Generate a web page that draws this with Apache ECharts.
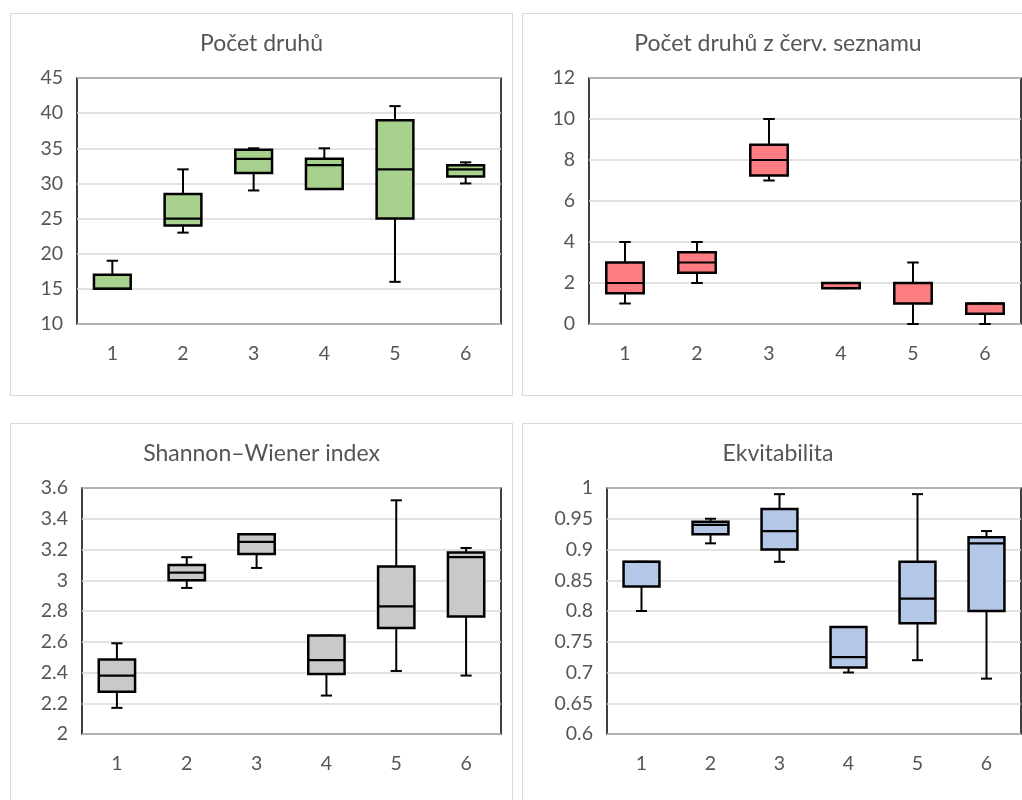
<!DOCTYPE html>
<html>
<head>
<meta charset="utf-8">
<script src="https://cdn.jsdelivr.net/npm/echarts@6/dist/echarts.min.js"></script>
<style>
  html, body { margin: 0; padding: 0; background: #fff; width: 1022px; height: 800px; overflow: hidden; }
  .panel { position: absolute; box-sizing: border-box; border: 1px solid #d9d9d9; background: #fff; }
</style>
</head>
<body>
<div id="p1" class="panel" style="left:10px; top:13px; width:503px; height:383px;"></div>
<div id="p2" class="panel" style="left:522px; top:13px; width:512px; height:383px;"></div>
<div id="p3" class="panel" style="left:10px; top:423px; width:503px; height:390px;"></div>
<div id="p4" class="panel" style="left:522px; top:423px; width:512px; height:390px;"></div>
<script>
// Sites 1–6; each row is [min, Q1, median, Q3, max]
const categories = ['1', '2', '3', '4', '5', '6'];

const pocetDruhu = [
  [15, 15, 15, 17, 19],
  [23, 24, 25, 28.5, 32],
  [29, 31.5, 33.5, 34.8, 35],
  [29.2, 29.2, 32.6, 33.5, 35],
  [16, 25, 32, 39, 41],
  [30, 31, 32, 32.6, 33]
];

const cervenySeznam = [
  [1, 1.5, 2, 3, 4],
  [2, 2.5, 3, 3.5, 4],
  [7, 7.25, 8, 8.75, 10],
  [1.75, 1.75, 2, 2, 2],
  [0, 1, 2, 2, 3],
  [0, 0.5, 1, 1, 1]
];

const shannon = [
  [2.17, 2.275, 2.38, 2.485, 2.59],
  [2.95, 3.0, 3.05, 3.1, 3.15],
  [3.08, 3.17, 3.25, 3.3, 3.3],
  [2.25, 2.39, 2.48, 2.64, 2.64],
  [2.41, 2.69, 2.83, 3.09, 3.52],
  [2.38, 2.765, 3.15, 3.18, 3.21]
];

const ekvitabilita = [
  [0.80, 0.84, 0.88, 0.88, 0.88],
  [0.91, 0.925, 0.94, 0.945, 0.95],
  [0.88, 0.90, 0.93, 0.966, 0.99],
  [0.70, 0.708, 0.725, 0.774, 0.774],
  [0.72, 0.78, 0.82, 0.88, 0.99],
  [0.69, 0.80, 0.91, 0.92, 0.93]
];

const FONT = 'Lato, "Open Sans", sans-serif';
const TEXT = '#555555';

// Box with narrow whisker caps, placed through the chart's own axes
function renderBox(fill) {
  return function (params, api) {
    const i = api.value(0);
    const lo = api.value(1), q1 = api.value(2), med = api.value(3), q3 = api.value(4), hi = api.value(5);
    const band = api.size([1, 0])[0];
    const half = band * 0.26;
    const cap = band * 0.08;
    const pLo = api.coord([i, lo]);
    const pQ1 = api.coord([i, q1]);
    const pMed = api.coord([i, med]);
    const pQ3 = api.coord([i, q3]);
    const pHi = api.coord([i, hi]);
    const x = pMed[0];
    const line = { stroke: '#000', lineWidth: 2 };
    const children = [];
    if (hi > q3) {
      children.push({ type: 'line', shape: { x1: x, y1: pQ3[1], x2: x, y2: pHi[1] }, style: line });
    }
    children.push({ type: 'line', shape: { x1: x - cap, y1: pHi[1], x2: x + cap, y2: pHi[1] }, style: line });
    if (lo < q1) {
      children.push({ type: 'line', shape: { x1: x, y1: pQ1[1], x2: x, y2: pLo[1] }, style: line });
    }
    children.push({ type: 'line', shape: { x1: x - cap, y1: pLo[1], x2: x + cap, y2: pLo[1] }, style: line });
    children.push({
      type: 'rect',
      shape: { x: x - half, y: pQ3[1], width: half * 2, height: pQ1[1] - pQ3[1] },
      style: { fill: fill, stroke: '#000', lineWidth: 2.5 }
    });
    children.push({
      type: 'line',
      shape: { x1: x - half, y1: pMed[1], x2: x + half, y2: pMed[1] },
      style: { stroke: '#000', lineWidth: 2.2 }
    });
    return { type: 'group', children: children };
  };
}

function buildPanel(id, title, rows, yMin, yMax, step, fill, grid) {
  const chart = echarts.init(document.getElementById(id), null, { renderer: 'canvas' });
  chart.setOption({
    animation: false,
    title: {
      text: title,
      left: 'center',
      top: 13,
      textStyle: { fontFamily: FONT, fontSize: 23, fontWeight: 'normal', color: TEXT }
    },
    grid: Object.assign({ show: true, borderColor: '#000', borderWidth: 1.5, backgroundColor: 'transparent' }, grid),
    xAxis: {
      type: 'category',
      data: categories,
      axisLine: { show: false },
      axisTick: { show: false },
      axisLabel: { margin: 20, fontFamily: FONT, fontSize: 19.5, color: TEXT }
    },
    yAxis: {
      type: 'value',
      min: yMin,
      max: yMax,
      interval: step,
      axisLine: { show: false },
      axisTick: { show: false },
      axisLabel: { margin: 14, fontFamily: FONT, fontSize: 19.5, color: TEXT },
      splitLine: { show: true, lineStyle: { color: '#d9d9d9', width: 1.5 } }
    },
    series: [{
      type: 'custom',
      renderItem: renderBox(fill),
      encode: { x: 0, y: [1, 2, 3, 4, 5] },
      data: rows.map((r, i) => [i].concat(r))
    }]
  });
}

buildPanel('p1', 'Počet druhů', pocetDruhu, 10, 45, 5, '#A9D18E',
  { left: 66, top: 64, width: 424, height: 246 });
buildPanel('p2', 'Počet druhů z červ. seznamu', cervenySeznam, 0, 12, 2, '#FF7C80',
  { left: 66, top: 64, width: 432, height: 246 });
buildPanel('p3', 'Shannon–Wiener index', shannon, 2, 3.6, 0.2, '#C9C9C9',
  { left: 71, top: 64, width: 419, height: 246 });
buildPanel('p4', 'Ekvitabilita', ekvitabilita, 0.6, 1, 0.05, '#B4C7E7',
  { left: 84, top: 64, width: 414, height: 246 });
</script>
</body>
</html>
